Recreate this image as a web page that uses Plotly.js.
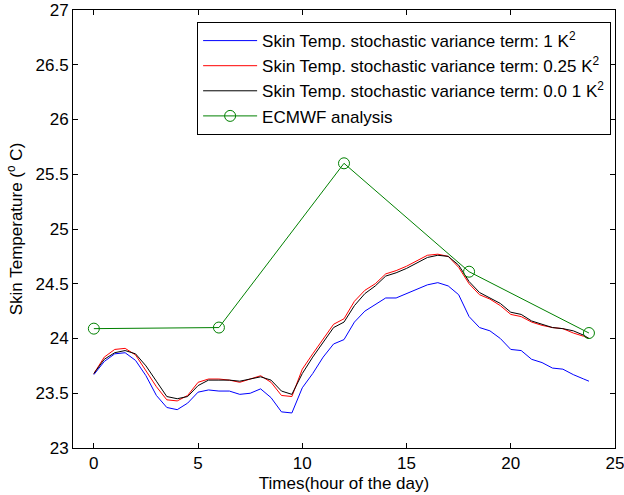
<!DOCTYPE html>
<html>
<head>
<meta charset="utf-8">
<script src="https://cdn.plot.ly/plotly-3.0.1.min.js"></script>
<style>html,body{margin:0;padding:0;background:#fff;}#chart{width:624px;height:495px;}</style>
</head>
<body>
<div id="chart"></div>
<script>
// Time axis (hours)
const hours = [0,0.5,1,1.5,2,2.5,3,3.5,4,4.5,5,5.5,6,6.5,7,7.5,8,8.5,9,9.5,10,10.5,11,11.5,12,12.5,13,13.5,14,14.5,15,15.5,16,16.5,17,17.5,18,18.5,19,19.5,20,20.5,21,21.5,22,22.5,23,23.5,23.75];
// Skin temperature, variance 1 K^2 (blue)
const var1 = [23.67,23.79,23.86,23.87,23.80,23.66,23.48,23.37,23.35,23.41,23.51,23.53,23.52,23.52,23.49,23.50,23.54,23.46,23.33,23.32,23.55,23.68,23.83,23.95,23.99,24.15,24.25,24.31,24.37,24.37,24.41,24.45,24.49,24.51,24.48,24.40,24.20,24.10,24.07,24.00,23.90,23.89,23.81,23.78,23.73,23.72,23.67,23.63,23.61];
// Skin temperature, variance 0.25 K^2 (red)
const var025 = [23.68,23.83,23.90,23.91,23.85,23.71,23.56,23.44,23.43,23.48,23.60,23.63,23.63,23.62,23.60,23.63,23.66,23.60,23.48,23.47,23.72,23.86,24.00,24.13,24.18,24.34,24.44,24.50,24.59,24.62,24.66,24.71,24.76,24.77,24.75,24.65,24.50,24.40,24.36,24.30,24.22,24.20,24.15,24.12,24.10,24.09,24.05,24.02,24.00];
// Skin temperature, variance 0.01 K^2 (black)
const var001 = [23.68,23.81,23.87,23.89,23.86,23.75,23.61,23.47,23.45,23.47,23.57,23.62,23.62,23.62,23.61,23.63,23.65,23.62,23.52,23.49,23.68,23.83,23.97,24.10,24.15,24.30,24.41,24.48,24.57,24.60,24.64,24.69,24.74,24.76,24.75,24.67,24.52,24.42,24.37,24.32,24.24,24.22,24.16,24.13,24.10,24.09,24.07,24.03,24.00];
// ECMWF analysis
const ecmwfHours = [0,6,12,18,23.75];
const ecmwfTemp = [24.09,24.10,25.60,24.61,24.05];
const xTicks = [0,5,10,15,20,25];
const yTicks = [23,23.5,24,24.5,25,25.5,26,26.5,27];
const names = [
  'Skin Temp. stochastic variance term: 1 K<sup>2</sup>',
  'Skin Temp. stochastic variance term: 0.25 K<sup>2</sup>',
  'Skin Temp. stochastic variance term: 0.0 1 K<sup>2</sup>',
  'ECMWF analysis'
];

const traces = [
  {x: hours, y: var1, name: names[0], mode: 'lines', line: {color: '#0000ff', width: 1}},
  {x: hours, y: var025, name: names[1], mode: 'lines', line: {color: '#ff0000', width: 1}},
  {x: hours, y: var001, name: names[2], mode: 'lines', line: {color: '#000000', width: 1}},
  {x: ecmwfHours, y: ecmwfTemp, name: names[3], mode: 'lines+markers', line: {color: '#008000', width: 1},
   marker: {symbol: 'circle-open', size: 11, color: '#008000', line: {width: 1, color: '#008000'}}}
];

const FONT = 'Liberation Sans, Arial, sans-serif';
const axisCommon = {
  showgrid: false, zeroline: false, showline: true, mirror: 'ticks', linecolor: '#000', linewidth: 1,
  ticks: 'inside', ticklen: 5, tickcolor: '#000', tickwidth: 1, ticklabeloverflow: 'allow',
  tickfont: {family: FONT, size: 17, color: '#000'}
};

const layout = {
  width: 624, height: 495,
  margin: {l: 73, r: 9, t: 10, b: 47},
  paper_bgcolor: '#fff', plot_bgcolor: '#fff',
  font: {family: FONT, size: 17, color: '#000'},
  showlegend: true,
  legend: {
    x: 0.229, y: 0.9725, xanchor: 'left', yanchor: 'top',
    bgcolor: '#fff', bordercolor: '#000', borderwidth: 1,
    font: {family: FONT, size: 17, color: '#000'},
    itemwidth: 54
  },
  xaxis: Object.assign({}, axisCommon, {
    range: [-1, 25], tickvals: xTicks, ticktext: xTicks.map(String),
    title: {text: 'Times(hour of the day)', font: {size: 17}, standoff: 4}
  }),
  yaxis: Object.assign({}, axisCommon, {
    range: [23, 27], tickvals: yTicks, ticktext: yTicks.map(String),
    title: {text: 'Skin Temperature (<sup>o</sup> C)', font: {size: 17}, standoff: 8}
  })
};

Plotly.newPlot('chart', traces, layout, {displayModeBar: false, staticPlot: true});
</script>
</body>
</html>
